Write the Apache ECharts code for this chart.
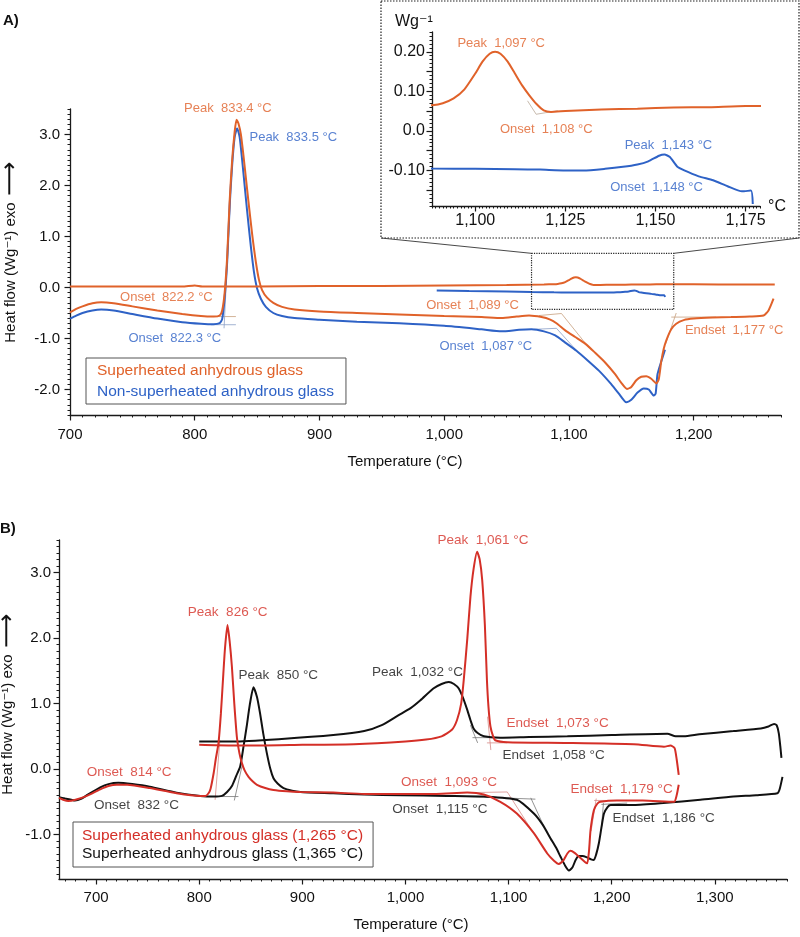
<!DOCTYPE html>
<html>
<head>
<meta charset="utf-8">
<title>DSC heat flow curves</title>
<script src="https://cdn.jsdelivr.net/npm/echarts@6/dist/echarts.min.js"></script>
<style>
  html, body { margin: 0; background: #fff; }
  #chart { width: 800px; height: 937px; }
</style>
</head>
<body>
<div id="chart"></div>
<script>
// Panel A: superheated vs non-superheated glass, with zoomed inset of the cooling curves
// Panel B: superheated glass at 1,265 °C vs 1,365 °C

// ---- panel A data [°C, W/g] ----
const aOrangeHeat = [
  [700,-0.49],[705,-0.42],[710,-0.37],[718,-0.31],[725,-0.29],[735,-0.31],[750,-0.37],[770,-0.45],
  [790,-0.52],[805,-0.56],[815,-0.57],[820,-0.55],[822,-0.45],[824,-0.1],[826,0.6],[828,1.7],
  [830,2.5],[832,3.05],[833.5,3.29],[835,3.22],[837,3.0],[839,2.6],[841,2.15],[843,1.7],[846,1.05],
  [849,0.5],[851.5,0.15],[854,-0.05],[858,-0.2],[863,-0.3],[870,-0.38],[880,-0.43],[900,-0.47],
  [930,-0.5],[964,-0.53],[1000,-0.56],[1030,-0.58],[1046,-0.6],[1058,-0.57],[1068,-0.55],
  [1078,-0.58],[1085,-0.63],[1090,-0.7],[1097,-0.84],[1105,-0.97],[1113,-1.1],[1121,-1.28],
  [1129,-1.47],[1137,-1.7],[1142,-1.87],[1146.5,-1.99],[1150,-1.95],[1154,-1.82],[1158,-1.75],
  [1162,-1.74],[1166,-1.79],[1170,-1.88],[1172,-1.8],[1174,-1.45],[1176,-1.2],[1178,-1.04],
  [1182,-0.82],[1186,-0.71],[1192,-0.64],[1200,-0.61],[1215,-0.59],[1230,-0.58],[1245,-0.57],
  [1256,-0.55],[1260,-0.45],[1264,-0.22]
];
const aOrangeCool = [
  [700,0.02],[750,0.02],[790,0.02],[800,0.04],[806,0.02],[850,0.02],[900,0.03],[950,0.03],
  [1000,0.04],[1050,0.05],[1080,0.06],[1088,0.065],[1091,0.07],[1094,0.082],[1097,0.105],
  [1100,0.145],[1102,0.175],[1104,0.195],[1105.5,0.2],[1107,0.195],[1109,0.175],[1111,0.145],
  [1113,0.115],[1115,0.09],[1117,0.068],[1119,0.052],[1121,0.048],[1125,0.05],[1135,0.054],
  [1145,0.056],[1155,0.059],[1165,0.06],[1175,0.063],[1180,0.063],[1220,0.06],[1265,0.06]
];
const aBlueHeat = [
  [700,-0.61],[705,-0.55],[710,-0.5],[718,-0.45],[725,-0.43],[735,-0.45],[750,-0.52],[770,-0.61],
  [790,-0.68],[805,-0.71],[815,-0.72],[820,-0.7],[822,-0.62],[824,-0.2],[826,0.5],[828,1.6],
  [830,2.4],[832,2.95],[834,3.12],[836,2.95],[838,2.5],[840,2.0],[842,1.5],[845,0.8],[847.5,0.3],
  [850,-0.02],[853,-0.22],[857,-0.38],[863,-0.5],[870,-0.56],[880,-0.6],[900,-0.63],[930,-0.67],
  [964,-0.7],[1000,-0.75],[1030,-0.82],[1046,-0.86],[1060,-0.83],[1070,-0.82],[1080,-0.86],
  [1089,-0.94],[1097,-1.08],[1106,-1.24],[1115,-1.43],[1124,-1.63],[1133,-1.87],[1140,-2.08],
  [1146,-2.25],[1150,-2.2],[1155,-2.06],[1160,-1.98],[1164,-2.0],[1168,-2.12],[1169.5,-2.08],
  [1171,-1.7],[1174,-1.45],[1177,-1.22]
];
const aBlueCool = [
  [994,-0.06],[1020,-0.07],[1050,-0.08],[1070,-0.09],[1088,-0.095],[1100,-0.096],[1111,-0.097],
  [1118,-0.098],[1125,-0.1],[1130,-0.1],[1136,-0.096],[1141,-0.091],[1145,-0.085],[1148,-0.077],
  [1151,-0.063],[1152.5,-0.06],[1154,-0.066],[1156,-0.09],[1158,-0.1],[1162,-0.115],[1166,-0.125],
  [1170,-0.14],[1174,-0.153],[1176.5,-0.151],[1177,-0.185]
];
const aZoomX = [1070, 1184];
const aZoomY = [-0.43, 0.67];

const aTangentsOrange = [
  [[813,-0.57],[833,-0.57]], [[1076,-0.55],[1094,-0.51]], [[1094,-0.51],[1116,-1.18]],
  [[1182,-0.58],[1218,-0.58]], [[1177.6,-1.1],[1186,-0.5]]
];
const aTangentsBlue = [
  [[813,-0.73],[833,-0.73]], [[823.5,-0.8],[828.5,1.7]],
  [[1072,-0.82],[1090,-0.8]], [[1090,-0.8],[1108,-1.29]]
];
const insetTangents = [[[1114.5,0.076],[1116.9,0.042]], [[1116.9,0.042],[1122.9,0.051]]];

const aLabelsOrange = [
  ['Peak  833.4 °C', [826.6, 3.51]], ['Onset  822.2 °C', [777.3, -0.2]],
  ['Onset  1,089 °C', [1022.7, -0.35]], ['Endset  1,177 °C', [1232.4, -0.84]]
];
const aLabelsBlue = [
  ['Peak  833.5 °C', [879, 2.94]], ['Onset  822.3 °C', [784, -0.99]],
  ['Onset  1,087 °C', [1033.3, -1.16]]
];
const insetLabelsOrange = [['Peak  1,097 °C', [1107.2, 0.221]], ['Onset  1,108 °C', [1119.7, 0.004]]];
const insetLabelsBlue = [['Peak  1,143 °C', [1153.6, -0.038]], ['Onset  1,148 °C', [1150.3, -0.142]]];

// ---- panel B data [°C, W/g] ----
const bRedHeat = [
  [664,-0.44],[668,-0.47],[673,-0.49],[680,-0.47],[691,-0.41],[704,-0.31],[712,-0.26],[720,-0.24],
  [730,-0.24],[752,-0.29],[778,-0.37],[801,-0.41],[806,-0.41],[809,-0.37],[811,-0.3],[814,-0.06],
  [816,0.15],[818.7,0.4],[821,0.85],[823,1.36],[825,1.85],[827.4,2.2],[829.5,1.95],[831.7,1.56],
  [834,1.0],[836.5,0.49],[839,0.24],[841.4,0.09],[844,-0.02],[847.8,-0.12],[852,-0.19],[856,-0.24],
  [864,-0.29],[872,-0.32],[885,-0.34],[898,-0.35],[930,-0.36],[960,-0.38],[995,-0.38],[1030,-0.38],
  [1060,-0.36],[1076,-0.39],[1092,-0.5],[1108,-0.68],[1124.5,-0.98],[1137.5,-1.29],[1144,-1.4],
  [1148.7,-1.45],[1153,-1.4],[1157,-1.29],[1160,-1.25],[1164,-1.28],[1169.8,-1.36],[1174,-1.42],
  [1176.3,-1.44],[1178,-1.25],[1179.5,-0.93],[1182.7,-0.63],[1186,-0.53],[1189,-0.5],[1205,-0.48],
  [1230,-0.48],[1260.5,-0.5],[1263,-0.4],[1265,-0.24]
];
const bRedCool = [
  [800,0.37],[830,0.36],[860,0.36],[900,0.37],[950,0.38],[1000,0.42],[1020,0.45],[1035,0.5],
  [1045,0.6],[1050,0.75],[1054,1.0],[1056.5,1.36],[1060,2.0],[1063,2.63],[1066,3.05],[1069.5,3.32],
  [1072,3.2],[1074.4,2.89],[1077,2.2],[1079,1.36],[1080.5,0.95],[1082.4,0.65],[1085,0.5],[1087,0.44],
  [1098.7,0.41],[1157,0.4],[1221.5,0.38],[1250.7,0.34],[1257,0.36],[1261,0.32],[1263,0.15],[1265,-0.09]
];
const bBlackHeat = [
  [664,-0.43],[670,-0.45],[679.5,-0.48],[686,-0.45],[691,-0.4],[704,-0.28],[712,-0.23],[721.5,-0.21],
  [735,-0.23],[752,-0.27],[778,-0.36],[801,-0.41],[814,-0.42],[822,-0.41],[827,-0.35],[832,-0.25],
  [836,-0.1],[839.7,0.04],[843,0.35],[846,0.65],[849,0.98],[852.6,1.25],[856,1.1],[859,0.85],
  [862,0.55],[865.6,0.24],[869,0.0],[872,-0.14],[876,-0.22],[881.7,-0.29],[890,-0.33],[898,-0.35],
  [930,-0.37],[960,-0.39],[995,-0.4],[1040,-0.41],[1076,-0.42],[1108,-0.47],[1124.5,-0.68],
  [1133,-0.85],[1140.7,-1.06],[1146,-1.2],[1150.4,-1.34],[1155,-1.48],[1158.5,-1.55],[1162,-1.5],
  [1165,-1.39],[1168,-1.33],[1171.5,-1.33],[1176,-1.35],[1180,-1.38],[1182.7,-1.39],[1185,-1.3],
  [1187.6,-1.13],[1190,-0.9],[1192.5,-0.68],[1196,-0.58],[1199,-0.55],[1221.6,-0.55],[1250,-0.52],
  [1286,-0.47],[1318,-0.42],[1340,-0.4],[1360.7,-0.37],[1363,-0.3],[1365.6,-0.12]
];
const bBlackCool = [
  [800,0.42],[833,0.42],[880,0.46],[930,0.52],[960,0.58],[977,0.67],[993,0.82],[1005,0.93],
  [1014.5,1.05],[1027,1.23],[1035,1.3],[1042,1.33],[1047,1.3],[1051.7,1.23],[1056,1.08],[1060,0.9],
  [1063,0.75],[1066,0.62],[1070,0.55],[1076,0.5],[1092,0.48],[1120,0.49],[1157,0.5],[1200,0.52],
  [1254,0.54],[1262,0.5],[1270,0.5],[1285,0.53],[1318,0.58],[1344.6,0.62],[1352,0.65],[1357.5,0.69],
  [1360,0.67],[1362,0.55],[1363.5,0.35],[1364.6,0.17]
];
const bTangentsBlack = [
  [[801,-0.42],[838,-0.42]], [[834,-0.48],[841.4,0.04]], [[1065,0.48],[1102,0.48]],
  [[1063,0.67],[1070,0.4]], [[1027,-0.4],[1126,-0.46]], [[1121.5,-0.44],[1134.4,-0.88]],
  [[1190,-0.54],[1215,-0.52]], [[1192,-0.52],[1190,-0.9]]
];
const bTangentsRed = [
  [[815.4,-0.47],[820,0.44]], [[1079,0.4],[1098.7,0.4]], [[1079.6,0.8],[1082.8,0.29]],
  [[1063,-0.36],[1098.7,-0.35]], [[1098.7,-0.35],[1121.5,-0.91]],
  [[1183,-0.48],[1215,-0.48]], [[1180,-0.95],[1185,-0.45]]
];
const bLabelsRed = [
  ['Peak  826 °C', [827.6, 2.4]], ['Onset  814 °C', [732, -0.05]], ['Peak  1,061 °C', [1075.2, 3.5]],
  ['Endset  1,073 °C', [1147.5, 0.7]], ['Onset  1,093 °C', [1042.2, -0.2]], ['Endset  1,179 °C', [1209.6, -0.31]]
];
const bLabelsBlack = [
  ['Peak  850 °C', [876.6, 1.44]], ['Onset  832 °C', [739.2, -0.55]], ['Peak  1,032 °C', [1011.6, 1.48]],
  ['Endset  1,058 °C', [1143.6, 0.21]], ['Onset  1,115 °C', [1033.4, -0.61]], ['Endset  1,186 °C', [1250.4, -0.75]]
];

// ---- ticks ----
const aXTicks = [700, 800, 900, 1000, 1100, 1200];
const aYTicks = [-2, -1, 0, 1, 2, 3];
const insetXTicks = [1100, 1125, 1150, 1175];
const insetYTicks = [-0.1, 0, 0.1, 0.2];
const insetYMajor = [-0.15, -0.1, -0.05, 0, 0.05, 0.1, 0.15, 0.2];
const bXTicks = [700, 800, 900, 1000, 1100, 1200, 1300];
const bYTicks = [-1, 0, 1, 2, 3];

const legendA = ['Superheated anhydrous glass', 'Non-superheated anhydrous glass'];
const legendB = ['Superheated anhydrous glass (1,265 °C)', 'Superheated anhydrous glass (1,365 °C)'];

const ORANGE = '#E0622A', BLUE = '#2E62C6', RED = '#D42F27', BLACK = '#111111';
const FONT = '"Liberation Sans", Arial, "DejaVu Sans", sans-serif';
const AXIS = '#1a1a1a';

function range(a, b, step) {
  const out = [];
  for (let i = 0; a + i * step <= b + 1e-9; i++) out.push(+(a + i * step).toFixed(4));
  return out;
}
const fmtT = v => v >= 1000 ? Math.floor(v / 1000) + ',' + String(v % 1000).padStart(3, '0') : String(v);

// two axes per dimension: one carries the line and minor ticks, the other major ticks + labels
function axisPair(dim, gridIndex, min, max, minors, majors, labels, fmt, margin, fontSize) {
  const pos = dim === 'x' ? 'bottom' : 'left';
  const base = { type: 'value', gridIndex, min, max, position: pos, splitLine: { show: false } };
  return [
    Object.assign({}, base, {
      axisLine: { show: true, onZero: false, lineStyle: { color: AXIS, width: 1.3 } },
      axisTick: { show: true, customValues: minors, length: 2.5, lineStyle: { color: AXIS, width: 1 } },
      axisLabel: { show: false }
    }),
    Object.assign({}, base, {
      axisLine: { show: false, onZero: false },
      axisTick: { show: true, customValues: majors, length: 5.5, lineStyle: { color: AXIS, width: 1.2 } },
      axisLabel: { show: true, customValues: labels, formatter: fmt, margin, fontSize, color: '#111', fontFamily: FONT }
    })
  ];
}

const xAxes = [
  ...axisPair('x', 0, 700, 1270, range(700, 1270, 10), aXTicks, aXTicks, fmtT, 12, 15),
  ...axisPair('x', 1, 1088, 1179, range(1088, 1179, 1), insetXTicks, insetXTicks, fmtT, 7, 16),
  ...axisPair('x', 2, 664, 1370, range(670, 1370, 10), bXTicks, bXTicks, fmtT, 11, 15)
];
const yAxes = [
  ...axisPair('y', 0, -2.5, 3.5, range(-2.5, 3.5, 0.1), aYTicks, aYTicks, v => v.toFixed(1), 10, 15),
  ...axisPair('y', 1, -0.19, 0.25, range(-0.19, 0.25, 0.01), insetYMajor, insetYTicks,
    v => Math.abs(v) < 1e-9 ? '0.0' : v.toFixed(2), 7, 16),
  ...axisPair('y', 2, -1.68, 3.5, range(-1.6, 3.5, 0.1), bYTicks, bYTicks, v => v.toFixed(1), 8, 15)
];

function curve(name, data, color, ai, z) {
  return {
    type: 'line', name, data, xAxisIndex: ai, yAxisIndex: ai, symbol: 'none', smooth: 0.2,
    lineStyle: { color, width: 2 }, itemStyle: { color }, z: z || 3, silent: true
  };
}
function segments(list, color, ai) {
  return list.map(p => ({
    type: 'line', data: p, xAxisIndex: ai, yAxisIndex: ai, symbol: 'none',
    lineStyle: { color, width: 0.8 }, silent: true, z: 2
  }));
}
function labels(list, color, ai, size) {
  return {
    type: 'scatter', xAxisIndex: ai, yAxisIndex: ai, symbolSize: 0, clip: false, silent: true, z: 6,
    data: list.map(([t, p]) => ({ name: t, value: p })),
    label: { show: true, position: 'inside', formatter: '{b}', color, fontSize: size, fontFamily: FONT }
  };
}

const series = [
  // panel A
  ...segments(aTangentsOrange, '#c7a07e', 0),
  ...segments(aTangentsBlue, '#8c9fc6', 0),
  curve(legendA[1], aBlueHeat, BLUE, 0),
  curve(legendA[1], aBlueCool, BLUE, 0),
  curve(legendA[0], aOrangeHeat, ORANGE, 0, 4),
  curve(legendA[0], aOrangeCool, ORANGE, 0, 4),
  {
    type: 'line', xAxisIndex: 0, yAxisIndex: 0, symbol: 'none', silent: true, z: 5,
    data: [[aZoomX[0], aZoomY[1]], [aZoomX[1], aZoomY[1]], [aZoomX[1], aZoomY[0]],
           [aZoomX[0], aZoomY[0]], [aZoomX[0], aZoomY[1]]],
    lineStyle: { color: '#222', width: 1.2, type: 'dotted' }
  },
  labels(aLabelsOrange, ORANGE, 0, 13),
  labels(aLabelsBlue, BLUE, 0, 13),
  // inset (axes index 2)
  ...segments(insetTangents, '#b9a898', 2),
  curve(legendA[0], aOrangeCool, ORANGE, 2, 4),
  curve(legendA[1], aBlueCool, BLUE, 2),
  labels(insetLabelsOrange, ORANGE, 2, 13),
  labels(insetLabelsBlue, BLUE, 2, 13),
  // panel B (axes index 4)
  ...segments(bTangentsBlack, '#777', 4),
  ...segments(bTangentsRed, '#d58a86', 4),
  curve(legendB[1], bBlackHeat, BLACK, 4),
  curve(legendB[1], bBlackCool, BLACK, 4),
  curve(legendB[0], bRedHeat, RED, 4, 4),
  curve(legendB[0], bRedCool, RED, 4, 4),
  labels(bLabelsRed, RED, 4, 13.5),
  labels(bLabelsBlack, BLACK, 4, 13.5)
];

const legendBase = {
  orient: 'vertical', itemWidth: 0, itemHeight: 0, selectedMode: false,
  borderColor: '#555', borderWidth: 1, backgroundColor: '#fff',
  textStyle: { fontSize: 15.5, lineHeight: 17, fontFamily: FONT }
};

const chart = echarts.init(document.getElementById('chart'), null, { renderer: 'canvas' });
chart.setOption({
  animation: false,
  backgroundColor: '#fff',
  grid: [
    { left: 70, top: 109, width: 711, height: 306 },
    { left: 432, top: 32, width: 328, height: 174 },
    { left: 59, top: 540, width: 728, height: 339 }
  ],
  xAxis: xAxes,
  yAxis: yAxes,
  legend: [
    Object.assign({}, legendBase, {
      left: 86, top: 358, padding: [4, 12, 4, 5], itemGap: 4,
      data: [{ name: legendA[0], textStyle: { color: ORANGE } }, { name: legendA[1], textStyle: { color: BLUE } }]
    }),
    Object.assign({}, legendBase, {
      left: 73, top: 822, padding: [5, 10, 5, 3], itemGap: 1,
      data: [{ name: legendB[0], textStyle: { color: RED } }, { name: legendB[1], textStyle: { color: BLACK } }]
    })
  ],
  series
});

// decorations: panel letters, axis titles, inset frame and its leader lines
const c1 = chart.convertToPixel({ gridIndex: 0 }, [aZoomX[0], aZoomY[1]]);
const c2 = chart.convertToPixel({ gridIndex: 0 }, [aZoomX[1], aZoomY[1]]);
const frame = { x: 381, y: 1, w: 418, h: 237 };
const text = (x, y, t, opt) => ({
  type: 'text', x, y, silent: true, z: 10, rotation: (opt && opt.rot) || 0,
  style: Object.assign({ text: t, fill: '#111', font: '15px ' + FONT, align: 'left', verticalAlign: 'middle' }, opt && opt.style)
});
const yName = {
  text: '{t|Heat flow (Wg⁻¹) exo}  {a|⟶}',
  align: 'center', verticalAlign: 'middle',
  rich: { t: { fontSize: 15, fontFamily: FONT, fill: '#111' }, a: { fontSize: 24, fontFamily: '"DejaVu Sans"', fill: '#111' } }
};
chart.setOption({
  graphic: [
    { type: 'rect', silent: true, z: 1, shape: { x: frame.x, y: frame.y, width: frame.w, height: frame.h },
      style: { fill: 'none', stroke: '#222', lineWidth: 1.2, lineDash: [1.5, 1.5] } },
    { type: 'line', silent: true, z: 1, shape: { x1: frame.x, y1: frame.y + frame.h, x2: c1[0], y2: c1[1] },
      style: { stroke: '#333', lineWidth: 0.9 } },
    { type: 'line', silent: true, z: 1, shape: { x1: frame.x + frame.w, y1: frame.y + frame.h, x2: c2[0], y2: c2[1] },
      style: { stroke: '#333', lineWidth: 0.9 } },
    text(3, 21, 'A)', { style: { font: 'bold 15px ' + FONT } }),
    text(0, 529, 'B)', { style: { font: 'bold 15px ' + FONT } }),
    text(405, 462, 'Temperature (°C)', { style: { align: 'center' } }),
    text(411, 925, 'Temperature (°C)', { style: { align: 'center' } }),
    text(395, 22, 'Wg⁻¹', { style: { font: '16px ' + FONT } }),
    text(768, 207, '°C', { style: { font: '16px ' + FONT } }),
    { type: 'text', x: 11, y: 252, rotation: Math.PI / 2, silent: true, z: 10, style: Object.assign({}, yName) },
    { type: 'text', x: 8, y: 704, rotation: Math.PI / 2, silent: true, z: 10, style: Object.assign({}, yName) }
  ]
});
</script>
</body>
</html>
